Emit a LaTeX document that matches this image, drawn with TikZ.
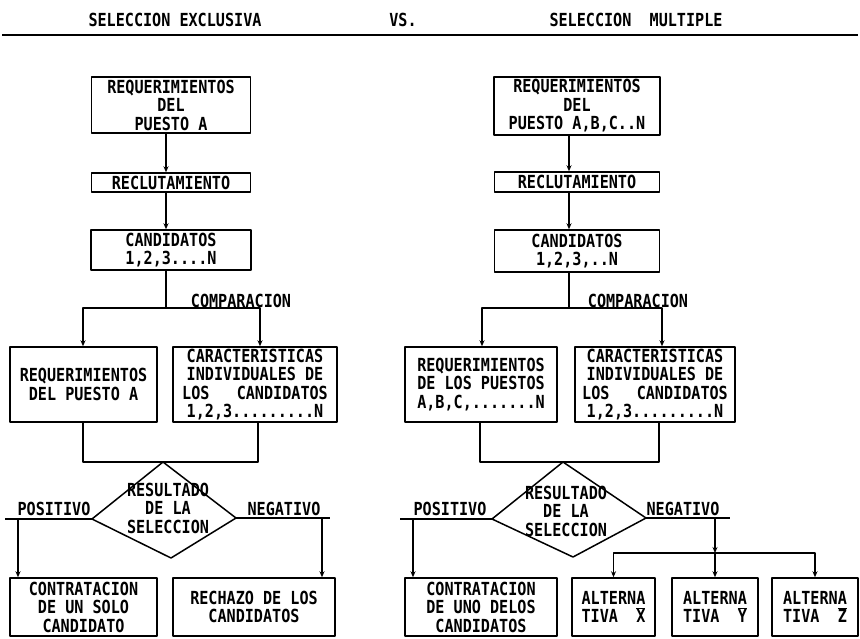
\documentclass[tikz,border=0pt]{standalone}
\usepackage{fontspec}
\setmainfont{DejaVu Sans Mono}[FakeStretch=0.84]
\usetikzlibrary{arrows.meta,calc}
\newcommand\diagfont{\fontsize{18pt}{18.5pt}\selectfont\bfseries}
\newcommand\barred[1]{$\overline{\hbox{#1}}$}
\begin{document}
\begin{tikzpicture}[x=1pt,y=-1pt,line width=1.5pt,line join=round,
  box/.style={draw,inner sep=0pt,align=center,font=\diagfont},
  lbl/.style={inner sep=0pt,font=\diagfont,anchor=base},
  arr/.style={-{Stealth[length=6pt,width=5pt]}}]
\useasboundingbox (0,0) rectangle (860,638);

% headings and rule
\node[lbl] (t1) at (175,26) {SELECCION EXCLUSIVA};
\node[lbl] (t2) at (403,26) {VS.};
\node[lbl] (t3) at (636,26) {SELECCION\ \ MULTIPLE};
\coordinate (ruleL) at (2,35);
\coordinate (ruleR) at (858,35);
\draw[line width=2pt] (ruleL) -- (ruleR);

% ---------------- exclusive selection ----------------
\node[box,minimum width=159pt,minimum height=56pt] (r1) at (171,105) {REQUERIMIENTOS\\DEL\\PUESTO A};
\node[box,minimum width=159pt,minimum height=19pt] (rec) at (171,182.5) {RECLUTAMIENTO};
\node[box,minimum width=160pt,minimum height=40pt] (cand) at (171,250) {CANDIDATOS\\1,2,3....N};
\draw[arr] ([xshift=-5pt]r1.south) -- ([xshift=-5pt]rec.north);
\draw[arr] ([xshift=-5pt]rec.south) -- ([xshift=-5pt]cand.north);

\node[box,minimum width=147pt,minimum height=75pt] (b4) at (83.5,384.5) {REQUERIMIENTOS\\DEL PUESTO A};
\node[box,minimum width=164pt,minimum height=75pt] (b5) at (255,384.5) {CARACTERISTICAS\\INDIVIDUALES DE\\LOS\ \ \ CANDIDATOS\\1,2,3.........N};
\coordinate (jL) at (166,308);
\coordinate (jLa) at (83,308);
\coordinate (jLb) at (260,308);
\draw ([xshift=-5pt]cand.south) -- (jL);
\draw[arr] (jL) -- (jLa) -- (jLa |- b4.north);
\draw[arr] (jL) -- (jLb) -- (jLb |- b5.north);
\node[lbl] (cmpL) at (241,307) {COMPARACION};

\coordinate (kLa) at (83,462);
\coordinate (kLb) at (258,462);
\draw (b4.south -| kLa) -- (kLa) -- (kLb) -- (b5.south -| kLb);

\coordinate (dLt) at (163,462);
\coordinate (dLr) at (236,518);
\coordinate (dLb) at (171,558);
\coordinate (dLl) at (92,519);
\draw (dLt) -- (dLr) -- (dLb) -- (dLl) -- cycle;
\node[inner sep=0pt,align=center,font=\diagfont] (dLtx) at (168,508) {RESULTADO\\DE LA\\SELECCION};

\node[box,minimum width=147pt,minimum height=58pt] (b6) at (83.5,607) {CONTRATACION\\DE UN SOLO\\CANDIDATO};
\node[box,minimum width=162pt,minimum height=58pt] (b7) at (254,607) {RECHAZO DE LOS\\CANDIDATOS};

\coordinate (pLend) at (5,519);
\coordinate (pLdrop) at (18,519);
\draw (dLl) -- (pLend);
\draw[arr] (pLdrop) -- (pLdrop |- b6.north);
\node[lbl] (posL) at (54,515) {POSITIVO};

\coordinate (nLend) at (330,518);
\coordinate (nLdrop) at (322,518);
\draw (dLr) -- (nLend);
\draw[arr] (nLdrop) -- (nLdrop |- b7.north);
\node[lbl] (negL) at (284,515) {NEGATIVO};

% ---------------- multiple selection ----------------
\node[box,minimum width=166pt,minimum height=58pt] (r1R) at (577,106) {REQUERIMIENTOS\\DEL\\PUESTO A,B,C..N};
\node[box,minimum width=165pt,minimum height=20pt] (recR) at (577,182) {RECLUTAMIENTO};
\node[box,minimum width=165pt,minimum height=42pt] (candR) at (577,251) {CANDIDATOS\\1,2,3,..N};
\draw[arr] ([xshift=-8pt]r1R.south) -- ([xshift=-8pt]recR.north);
\draw[arr] ([xshift=-8pt]recR.south) -- ([xshift=-8pt]candR.north);

\node[box,minimum width=152pt,minimum height=75pt] (b4R) at (481,384.5) {REQUERIMIENTOS\\DE LOS PUESTOS\\A,B,C,.......N};
\node[box,minimum width=160pt,minimum height=75pt] (b5R) at (655,384.5) {CARACTERISTICAS\\INDIVIDUALES DE\\LOS\ \ \ CANDIDATOS\\1,2,3.........N};
\coordinate (jR) at (569,308);
\coordinate (jRa) at (482,308);
\coordinate (jRb) at (662,308);
\draw ([xshift=-8pt]candR.south) -- (jR);
\draw[arr] (jR) -- (jRa) -- (jRa |- b4R.north);
\draw[arr] (jR) -- (jRb) -- (jRb |- b5R.north);
\node[lbl] (cmpR) at (638,307) {COMPARACION};

\coordinate (kRa) at (480,462);
\coordinate (kRb) at (659,462);
\draw (b4R.south -| kRa) -- (kRa) -- (kRb) -- (b5R.south -| kRb);

\coordinate (dRt) at (563,462);
\coordinate (dRr) at (646,518);
\coordinate (dRb) at (573,557);
\coordinate (dRl) at (492,519);
\draw (dRt) -- (dRr) -- (dRb) -- (dRl) -- cycle;
\node[inner sep=0pt,align=center,font=\diagfont] (dRtx) at (566,511) {RESULTADO\\DE LA\\SELECCION};

\node[box,minimum width=152pt,minimum height=58pt] (b6R) at (481,607) {CONTRATACION\\DE UNO DELOS\\CANDIDATOS};
\node[box,minimum width=83pt,minimum height=58pt] (altX) at (613.5,607) {ALTERNA\\TIVA\ \ \barred{X}};
\node[box,minimum width=86pt,minimum height=58pt] (altY) at (715,607) {ALTERNA\\TIVA\ \ \barred{Y}};
\node[box,minimum width=86pt,minimum height=58pt] (altZ) at (815,607) {ALTERNA\\TIVA\ \ \barred{Z}};

\coordinate (pRend) at (400,519);
\coordinate (pRdrop) at (413,519);
\draw (dRl) -- (pRend);
\draw[arr] (pRdrop) -- (pRdrop |- b6R.north);
\node[lbl] (posR) at (450,515) {POSITIVO};

\coordinate (nRend) at (730,518);
\coordinate (nRdrop) at (715,518);
\coordinate (aj) at (715,553);
\draw (dRr) -- (nRend);
\draw[arr] (nRdrop) -- (aj);
\draw[arr] (aj) -- (altY);
\draw[arr] (aj) -| (altX);
\draw[arr] (aj) -| (altZ);
\node[lbl] (negR) at (683,515) {NEGATIVO};
\end{tikzpicture}
\end{document}
